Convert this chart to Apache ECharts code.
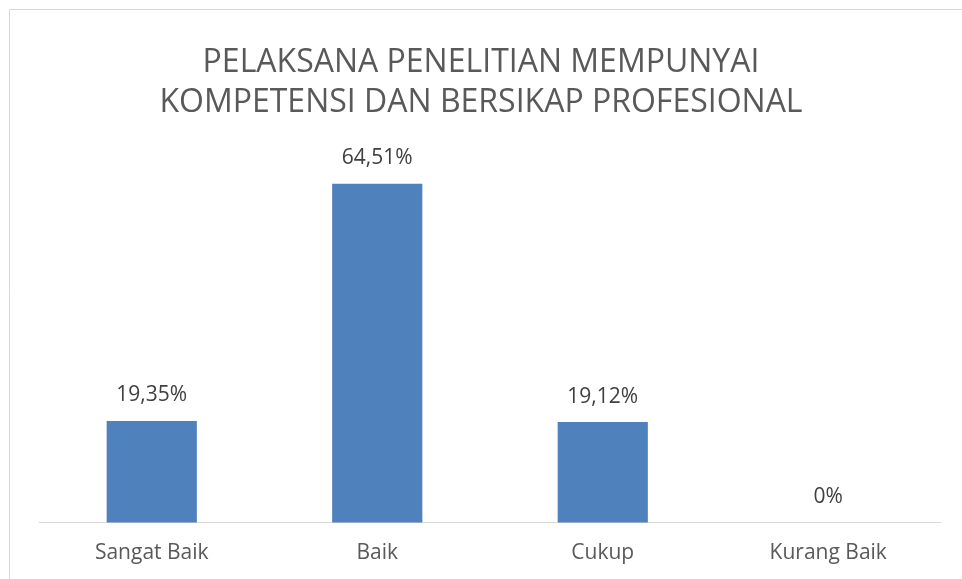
<!DOCTYPE html>
<html><head><meta charset="utf-8">
<script src="https://cdn.jsdelivr.net/npm/echarts@6/dist/echarts.min.js"></script>
<style>html,body{margin:0;padding:0;background:#fff}#c{width:962px;height:579px}</style>
</head><body><div id="c"></div>
<script>
const categories = ['Sangat Baik', 'Baik', 'Cukup', 'Kurang Baik'];
const values = [19.35, 64.51, 19.12, 0];
const valueLabels = ['19,35%', '64,51%', '19,12%', '0%'];
const titleLines = ['PELAKSANA PENELITIAN MEMPUNYAI', 'KOMPETENSI DAN BERSIKAP PROFESIONAL'];

const chart = echarts.init(document.getElementById('c'));
chart.setOption({
  animation: false,
  backgroundColor: '#fff',
  graphic: [{
    type: 'rect', shape: {x: 9.5, y: 9.5, width: 1000, height: 700},
    style: {fill: 'none', stroke: '#d9d9d9', lineWidth: 1}, silent: true
  }],
  title: {
    text: titleLines.join('\n'),
    left: 'center', top: 38,
    textStyle: {fontFamily: 'Open Sans', fontSize: 32, fontWeight: 'normal', color: '#595959', lineHeight: 40}
  },
  grid: {left: 39, right: 21, top: 155, bottom: 56.5, containLabel: false},
  xAxis: {
    type: 'category', data: categories,
    axisLine: {lineStyle: {color: '#d9d9d9', width: 1}},
    axisTick: {show: false},
    axisLabel: {fontFamily: 'Open Sans', fontSize: 21, color: '#595959', margin: 20}
  },
  yAxis: {type: 'value', min: 0, max: 70, show: false, splitLine: {show: false}},
  series: [{
    type: 'bar', data: values, barWidth: '40%',
    itemStyle: {color: '#4f81bd'},
    label: {
      show: true, position: 'top', distance: 15,
      formatter: p => valueLabels[p.dataIndex],
      fontFamily: 'Open Sans', fontSize: 21, color: '#404040'
    }
  }]
});
</script></body></html>
